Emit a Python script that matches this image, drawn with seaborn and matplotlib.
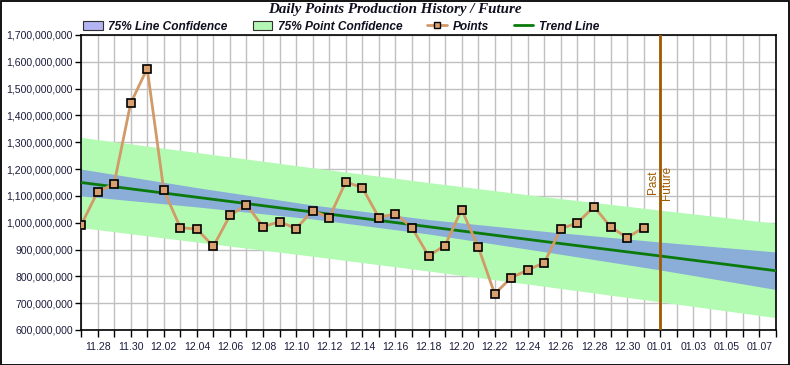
import matplotlib
matplotlib.use("Agg")
import matplotlib.pyplot as plt
import matplotlib.dates as mdates
from matplotlib.patches import Patch, Rectangle
from matplotlib.lines import Line2D
import seaborn as sns
import pandas as pd
import numpy as np

# ---------------- data ----------------
point_dates = pd.date_range("2009-11-27", "2009-12-31", freq="D")
points = [990, 1115, 1145, 1445, 1575, 1122, 982, 976, 912, 1027,
          1067, 985, 1004, 978, 1045, 1019, 1152, 1131, 1019, 1034,
          982, 877, 915, 1049, 911, 735, 795, 824, 851, 978,
          999, 1060, 985, 944, 982]  # millions

band_dates = pd.to_datetime(["2009-11-27", "2009-12-04", "2009-12-11", "2009-12-18",
                             "2009-12-25", "2010-01-01", "2010-01-08"])
trend = [1150, 1095, 1040, 985, 930, 876, 821]
line_conf_upper = [1200, 1131, 1066, 1012, 968, 928, 891]
line_conf_lower = [1100, 1059, 1014, 958, 892, 824, 751]
point_conf_upper = [1318, 1262, 1205, 1150, 1097, 1047, 998]
point_conf_lower = [982, 928, 875, 820, 763, 705, 646]

divider_date = pd.Timestamp("2010-01-01")
x_start, x_end = pd.Timestamp("2009-11-27"), pd.Timestamp("2010-01-08")
y_ticks = list(range(600, 1701, 100))

# ---------------- style ----------------
sns.set_theme(style="white")
plt.rcParams["font.family"] = ["Liberation Sans", "DejaVu Sans"]

fig = plt.figure(figsize=(7.9, 3.65), dpi=100)
ax = fig.add_axes([81 / 790, 1 - 330 / 365, (776 - 81) / 790, (330 - 35) / 365])

M = 1e6
ax.fill_between(band_dates, np.array(point_conf_lower) * M, np.array(point_conf_upper) * M,
                color="#b3fbb3", lw=0, zorder=1)
ax.fill_between(band_dates, np.array(line_conf_lower) * M, np.array(line_conf_upper) * M,
                color="#8aaed8", lw=0, zorder=2)

df_pts = pd.DataFrame({"date": point_dates, "value": np.array(points) * M})
df_tr = pd.DataFrame({"date": band_dates, "value": np.array(trend) * M})

sns.lineplot(data=df_tr, x="date", y="value", ax=ax, color="#0a7a0a", lw=2, zorder=4)
sns.lineplot(data=df_pts, x="date", y="value", ax=ax, color="#d29a68", lw=2,
             marker="s", markersize=6, markerfacecolor="#d9a070",
             markeredgecolor="black", markeredgewidth=1.2, zorder=5)

ax.axvline(divider_date, color="#a05a00", lw=2, zorder=6)
ax.text(divider_date - pd.Timedelta(hours=11), 1150 * M, "Past", rotation=90,
        ha="center", va="center", color="#a05a00", fontsize=8.5)
ax.text(divider_date + pd.Timedelta(hours=10), 1150 * M, "Future", rotation=90,
        ha="center", va="center", color="#a05a00", fontsize=8.5)

ax.set_xlim(x_start, x_end)
ax.set_ylim(600 * M, 1700 * M)
ax.set_yticks([v * M for v in y_ticks])
ax.set_yticklabels([f"{v * 1000000:,}" for v in y_ticks])

label_dates = pd.date_range("2009-11-28", "2010-01-07", freq="2D")
ax.set_xticks(label_dates)
ax.set_xticklabels([d.strftime("%m.%d") for d in label_dates])
ax.xaxis.set_minor_locator(mdates.DayLocator())
ax.grid(True, which="both", axis="x", color="#c0c0c0", lw=1, zorder=0)
ax.grid(True, which="major", axis="y", color="#c0c0c0", lw=1, zorder=0)
ax.set_axisbelow(True)

ax.set_xlabel("")
ax.set_ylabel("")
ax.tick_params(axis="both", which="both", direction="out", length=4, width=1,
               color="black", labelsize=7.6, labelcolor="#1c1c3c", pad=2)
ax.tick_params(axis="x", which="both", length=5, pad=4)
ax.tick_params(bottom=True, left=True, which="both")
ax.tick_params(axis="y", which="minor", left=False)
for s in ax.spines.values():
    s.set_color("black")
    s.set_linewidth(1.2)
    s.set_visible(True)

fig.text(0.5, 1 - 10 / 365, "Daily Points Production History / Future", ha="center", va="center",
         fontsize=10.8, fontweight="bold", fontstyle="italic",
         family=["Liberation Serif", "DejaVu Serif"], color="#101020")

handles = [
    Patch(facecolor="#b4b4f4", edgecolor="#303030", lw=0.8),
    Patch(facecolor="#b4f6b4", edgecolor="#303030", lw=0.8),
    Line2D([], [], color="#d29a68", lw=2, marker="s", markersize=5,
           markerfacecolor="#d9a070", markeredgecolor="black", markeredgewidth=1),
    Line2D([], [], color="#0a7a0a", lw=2),
]
labels = ["75% Line Confidence", "75% Point Confidence", "Points", "Trend Line"]
leg = fig.legend(handles, labels, loc="center left", bbox_to_anchor=(83 / 790, 1 - 26.5 / 365),
                 ncol=4, frameon=False, handlelength=1.65, handleheight=0.75, handletextpad=0.45,
                 columnspacing=2.1, borderaxespad=0, borderpad=0,
                 prop={"weight": "bold", "style": "italic", "size": 8.6})
for t in leg.get_texts():
    t.set_color("#101020")

fig.patches.append(Rectangle((0.5 / 790, 0.5 / 365), 1 - 1.5 / 790, 1 - 1.5 / 365,
                             transform=fig.transFigure, fill=False, edgecolor="black",
                             lw=1.3, zorder=10))

fig.savefig("out.png", dpi=100, facecolor="white")
